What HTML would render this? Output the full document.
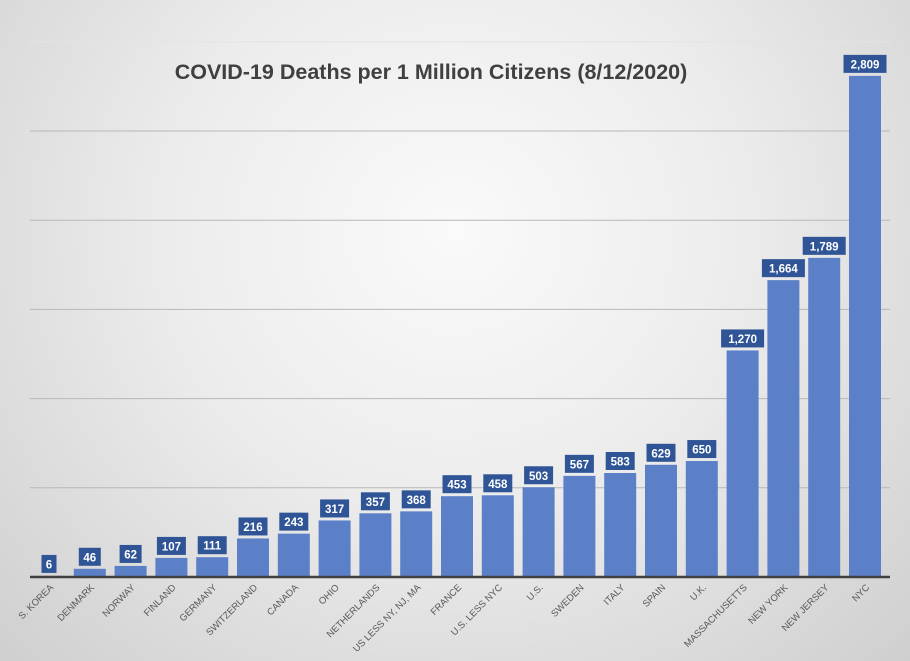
<!DOCTYPE html>
<html><head><meta charset="utf-8"><style>
html,body{margin:0;padding:0;}
body{width:910px;height:661px;overflow:hidden;background:radial-gradient(ellipse at 50% 35%,#fafafa 0%,#ececec 45%,#cfcfcf 100%);font-family:"Liberation Sans",sans-serif;}
svg{display:block}
</style></head><body>
<svg id="chart" width="910" height="661" xmlns="http://www.w3.org/2000/svg">
<text x="431" y="79" text-anchor="middle" font-family="Liberation Sans, sans-serif" font-size="21.5" font-weight="bold" fill="#404040">COVID-19 Deaths per 1 Million Citizens (8/12/2020)</text>
<g id="grid"></g><g id="bars"></g><g id="labels"></g><g id="xlabels"></g>
</svg>
<script>
const categories=["S. KOREA","DENMARK","NORWAY","FINLAND","GERMANY","SWITZERLAND","CANADA","OHIO","NETHERLANDS","US LESS NY, NJ, MA","FRANCE","U.S. LESS NYC","U.S.","SWEDEN","ITALY","SPAIN","U.K.","MASSACHUSETTS","NEW YORK","NEW JERSEY","NYC"];
const values=[6,46,62,107,111,216,243,317,357,368,453,458,503,567,583,629,650,1270,1664,1789,2809];
const valueLabels=["6","46","62","107","111","216","243","317","357","368","453","458","503","567","583","629","650","1,270","1,664","1,789","2,809"];
const gridTicks=[500,1000,1500,2000,2500,3000];
const NS="http://www.w3.org/2000/svg";
const base=577, pxPerUnit=89.2/500, x0=49, step=40.8, bw=32;
const y=v=>base-v*pxPerUnit;
const xc=i=>x0+i*step;
function mk(tag,attrs,parent){const e=document.createElementNS(NS,tag);for(const k in attrs)e.setAttribute(k,attrs[k]);parent.appendChild(e);return e;}
const grid=document.getElementById('grid'),bars=document.getElementById('bars'),labels=document.getElementById('labels'),xl=document.getElementById('xlabels');
gridTicks.forEach(t=>{const l=mk('line',{x1:30,x2:890,y1:y(t),y2:y(t),stroke:t===3000?'#e4e4e4':'#b8b8b8','stroke-width':1},grid);

});
values.forEach((v,i)=>{
const r=mk('rect',{x:xc(i)-bw/2,y:y(v),width:bw,height:base-y(v),fill:'#5b80c8'},bars);


const txt=valueLabels[i];const w=txt.length*7+8;const top=y(v)-21;
const g=mk('g',{},labels);


mk('rect',{x:xc(i)-w/2,y:top,width:w,height:18,fill:'#2f5597'},g);
const t=mk('text',{x:xc(i),y:top+13.5,'text-anchor':'middle','font-size':11.5,'font-weight':'bold',fill:'#fff'},g);t.textContent=txt;
const c=mk('text',{x:0,y:0,'text-anchor':'end','font-size':9.5,fill:'#595959',transform:`translate(${xc(i)+5},${base+11}) rotate(-45)`},xl);
c.textContent=categories[i];


});
const ax=mk('line',{x1:30,x2:890,y1:base,y2:base,stroke:'#404040','stroke-width':2.5},document.getElementById('chart'));


</script>
</body></html>
